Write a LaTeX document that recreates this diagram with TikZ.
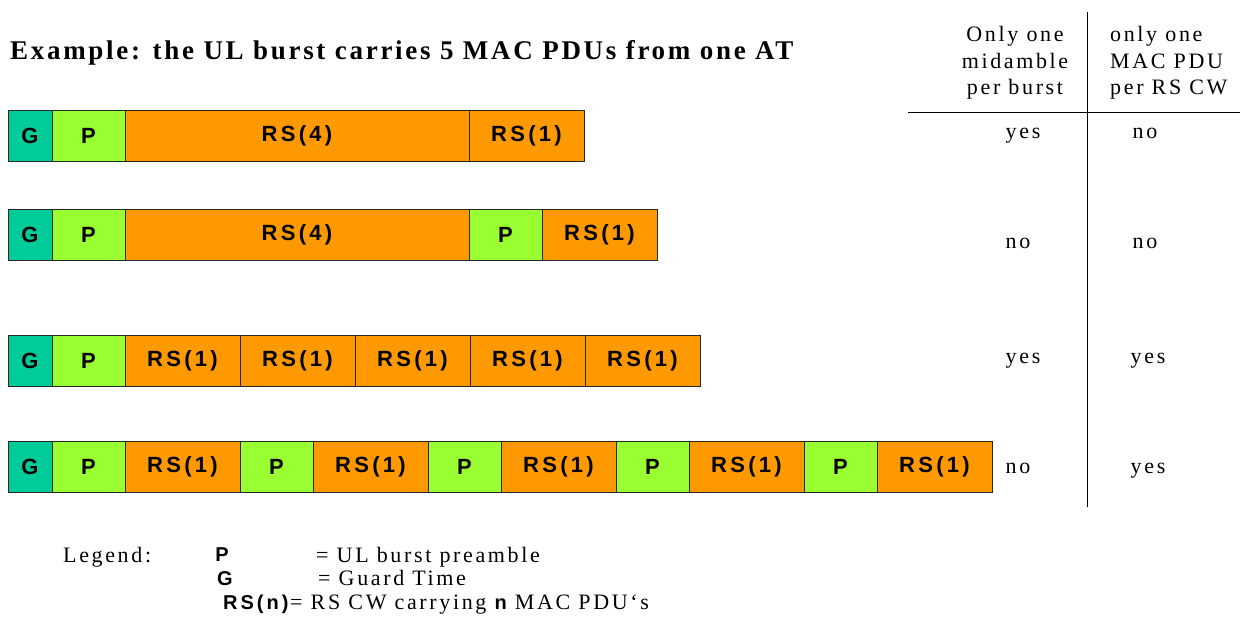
\documentclass[tikz,border=0pt]{standalone}
\usepackage{fontspec}
\setmainfont{Liberation Serif}[LetterSpace=12]
\newfontfamily\boxfont{Liberation Sans}[LetterSpace=15]
\usetikzlibrary{positioning}
\definecolor{guard}{HTML}{00CC99}
\definecolor{pre}{HTML}{99FF33}
\definecolor{rscw}{HTML}{FF9900}
\tikzset{
  blk/.style={draw=black!85,line width=0.8pt,minimum height=51pt,inner sep=0pt,
    outer sep=0pt,font=\boxfont\bfseries\fontsize{22}{22}\selectfont},
  gbox/.style={blk,fill=guard,minimum width=44pt,anchor=west},
  pbox/.style={blk,fill=pre,minimum width=73pt},
  rsone/.style={blk,fill=rscw,minimum width=115pt},
  rsfour/.style={blk,fill=rscw,minimum width=344pt},
  txt/.style={font=\fontsize{22}{26.5}\selectfont,inner sep=0pt},
  sym/.style={font=\boxfont\bfseries\fontsize{20}{20}\selectfont,inner sep=0pt}
}
\begin{document}
\begin{tikzpicture}[x=1pt,y=-1pt]
    \useasboundingbox (0,0) rectangle (1240,623);
    \node[anchor=base west,inner sep=0pt,
      font=\bfseries\addfontfeature{LetterSpace=10}\fontsize{27}{27}\selectfont] (title) at (10,60)
      {Example: the UL burst carries 5 MAC PDUs from one AT};
    % table
    \draw[line width=0.8pt] (1087,12) -- (1087,507);
    \draw[line width=0.8pt] (908,112) -- (1240,112);
    \node[txt,align=center] (head1) at (1015,63) {Only one\\midamble\\per burst};
    \node[txt,align=left,anchor=west] (head2) at (1110,63) {only one\\MAC PDU\\per RS CW};
    \node[txt,anchor=base] (a1) at (1023,139) {yes};
    \node[txt,anchor=base] (b1) at (1145,139) {no};
    \node[txt,anchor=base] (a2) at (1018,248) {no};
    \node[txt,anchor=base] (b2) at (1145,248) {no};
    \node[txt,anchor=base] (a3) at (1023,363) {yes};
    \node[txt,anchor=base] (b3) at (1148,363) {yes};
    \node[txt,anchor=base] (a4) at (1018,473) {no};
    \node[txt,anchor=base] (b4) at (1148,473) {yes};
    % burst 1
    \node[gbox] (g1) at (8,135.5) {G};
    \node[pbox,right=0pt of g1] (p1) {P};
    \node[rsfour,right=0pt of p1] (r1a) {RS(4)};
    \node[rsone,right=0pt of r1a] (r1b) {RS(1)};
    % burst 2
    \node[gbox] (g2) at (8,234.5) {G};
    \node[pbox,right=0pt of g2] (p2) {P};
    \node[rsfour,right=0pt of p2] (r2a) {RS(4)};
    \node[pbox,right=0pt of r2a] (p2b) {P};
    \node[rsone,right=0pt of p2b] (r2b) {RS(1)};
    % burst 3
    \node[gbox] (g3) at (8,360.5) {G};
    \node[pbox,right=0pt of g3] (p3) {P};
    \node[rsone,right=0pt of p3] (r3a) {RS(1)};
    \node[rsone,right=0pt of r3a] (r3b) {RS(1)};
    \node[rsone,right=0pt of r3b] (r3c) {RS(1)};
    \node[rsone,right=0pt of r3c] (r3d) {RS(1)};
    \node[rsone,right=0pt of r3d] (r3e) {RS(1)};
    % burst 4
    \node[gbox] (g4) at (8,466.5) {G};
    \node[pbox,right=0pt of g4] (p4a) {P};
    \node[rsone,right=0pt of p4a] (r4a) {RS(1)};
    \node[pbox,right=0pt of r4a] (p4b) {P};
    \node[rsone,right=0pt of p4b] (r4b) {RS(1)};
    \node[pbox,right=0pt of r4b] (p4c) {P};
    \node[rsone,right=0pt of p4c] (r4c) {RS(1)};
    \node[pbox,right=0pt of r4c] (p4d) {P};
    \node[rsone,right=0pt of p4d] (r4d) {RS(1)};
    \node[pbox,right=0pt of r4d] (p4e) {P};
    \node[rsone,right=0pt of p4e] (r4e) {RS(1)};
    % legend
    \node[txt,anchor=base west] (leg) at (63,562) {Legend:};
    \node[sym,anchor=base] (legp) at (222,561) {P};
    \node[txt,anchor=base west] (legpt) at (316,562) {= UL burst preamble};
    \node[sym,anchor=base] (legg) at (225,585) {G};
    \node[txt,anchor=base west] (leggt) at (318,585) {= Guard Time};
    \node[sym,anchor=base west] (legr) at (223,609) {RS(n)};
    \node[txt,anchor=base west] (legrt) at (290,609)
      {= RS CW carrying {\boxfont\bfseries\fontsize{20}{20}\selectfont n} MAC PDU‘s};
\end{tikzpicture}
\end{document}
